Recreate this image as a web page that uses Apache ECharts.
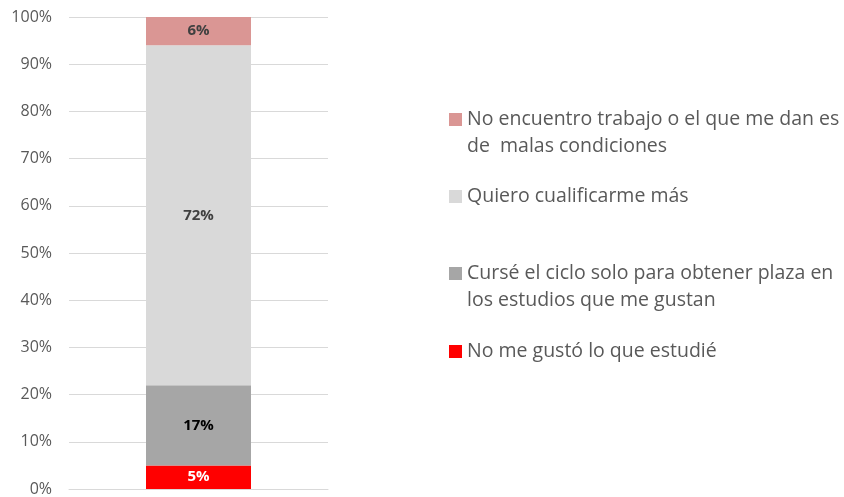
<!DOCTYPE html>
<html>
<head>
<meta charset="utf-8">
<script src="https://cdn.jsdelivr.net/npm/echarts@6/dist/echarts.min.js"></script>
<style>
  html, body { margin: 0; padding: 0; background: #fff; }
  #chart { width: 844px; height: 497px; }
</style>
</head>
<body>
<div id="chart"></div>
<script>
// Single stacked column, bottom to top
var categories = ['Total'];
var seriesNames = [
  'No me gustó lo que estudié',
  'Cursé el ciclo solo para obtener plaza en\nlos estudios que me gustan',
  'Quiero cualificarme más',
  'No encuentro trabajo o el que me dan es\nde  malas condiciones'
];
var noMeGusto = [5];
var curseCiclo = [17];
var quieroCualificarme = [72];
var noEncuentro = [6];
var yTicks = [0, 10, 20, 30, 40, 50, 60, 70, 80, 90, 100];

var colors = ['#ff0000', '#a6a6a6', '#d9d9d9', '#da9694'];
var labelColors = ['#ffffff', '#000000', '#404040', '#404040'];
var values = [noMeGusto, curseCiclo, quieroCualificarme, noEncuentro];

var FONT = '"Open Sans", "Noto Sans", sans-serif';
var LEGEND_SIZE = 19.5;
var LEGEND_COLOR = '#595959';

var series = values.map(function (v, i) {
  return {
    name: seriesNames[i],
    type: 'bar',
    stack: 'total',
    data: v,
    barWidth: 105,
    itemStyle: { color: colors[i] },
    label: {
      show: true,
      position: 'inside',
      formatter: '{c}%',
      color: labelColors[i],
      fontFamily: FONT,
      fontWeight: 'bold',
      fontSize: 15
    },
    emphasis: { disabled: true }
  };
});

// One legend block per entry, listed top to bottom; the legend shows the
// first line of each name and any continuation line is drawn below it.
var legendCenters = [119, 196, 273, 351];
var legendOrder = [3, 2, 1, 0];
var legends = legendOrder.map(function (idx, k) {
  return {
    data: [seriesNames[idx]],
    left: 444,
    top: legendCenters[k] - 18,
    itemWidth: 13,
    itemHeight: 13,
    icon: 'rect',
    selectedMode: false,
    formatter: function (name) { return name.split('\n')[0]; },
    textStyle: {
      color: LEGEND_COLOR,
      fontFamily: FONT,
      fontSize: LEGEND_SIZE,
      lineHeight: 27
    }
  };
});

var continuation = [];
legendOrder.forEach(function (idx, k) {
  var parts = seriesNames[idx].split('\n');
  if (parts.length > 1) {
    continuation.push({
      type: 'text',
      x: 467,
      y: legendCenters[k] + 27,
      silent: true,
      style: {
        text: parts.slice(1).join('\n'),
        fill: LEGEND_COLOR,
        font: LEGEND_SIZE + 'px ' + FONT,
        verticalAlign: 'middle',
        align: 'left'
      }
    });
  }
});

var chart = echarts.init(document.getElementById('chart'), null, { renderer: 'canvas' });
chart.setOption({
  animation: false,
  grid: { left: 69, right: 516, top: 17, bottom: 7, containLabel: false },
  legend: legends,
  graphic: continuation,
  xAxis: {
    type: 'category',
    data: categories,
    axisLine: { show: true, lineStyle: { color: '#d9d9d9', width: 1 } },
    axisTick: { show: false },
    axisLabel: { show: false }
  },
  yAxis: {
    type: 'value',
    min: yTicks[0],
    max: yTicks[yTicks.length - 1],
    interval: 10,
    axisLine: { show: false },
    axisTick: { show: false },
    splitLine: { lineStyle: { color: '#d9d9d9', width: 1 } },
    axisLabel: {
      formatter: '{value}%',
      color: '#595959',
      fontFamily: FONT,
      fontSize: 16,
      margin: 17
    }
  },
  series: series
});
</script>
</body>
</html>
